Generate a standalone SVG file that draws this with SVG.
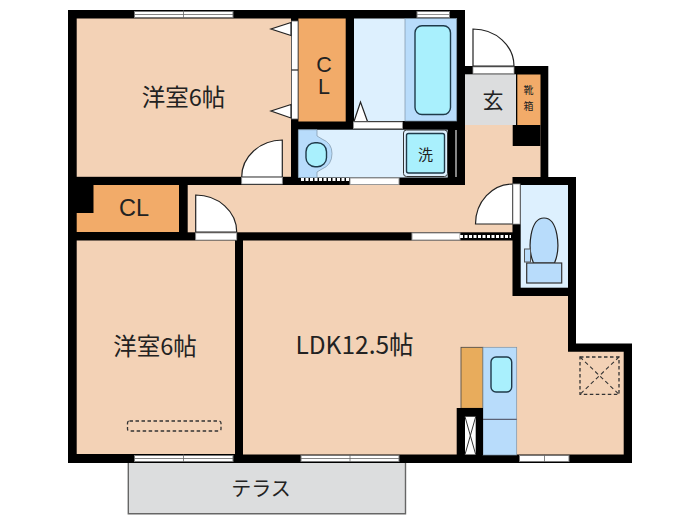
<svg xmlns="http://www.w3.org/2000/svg" width="700" height="525" viewBox="0 0 700 525">
<style>
.room{fill:#f3d2b6}.cl{fill:#f2ab69}.lb{fill:#ddf0fe}.bl{fill:#b8dcfb;stroke:#7d93a6;stroke-width:.7}.cy{fill:#a9f0fd;stroke:#1f3a4a;stroke-width:1.4}
.w{fill:#000}.wh{fill:#fff}.gr{fill:#dcddde}
.ln{fill:none;stroke:#222;stroke-width:1.2}
.door{fill:#fff;stroke:#222;stroke-width:1.2}
.sill{fill:#fff;stroke:#999;stroke-width:.8}
.win{fill:#fff;stroke:#777;stroke-width:1}
.t{font-family:"Noto Sans CJK JP","Noto Sans",sans-serif;fill:#222}
.a{font-family:"Liberation Sans",sans-serif;fill:#222}
.dash{fill:none;stroke:#333;stroke-width:1.3;stroke-dasharray:3.5 2.5}
</style>
<rect width="700" height="525" fill="#fff"/>
<g id="terrace"><path d="M128.300 462V513.700H405.500V462Z" class="gr" stroke="#666" stroke-width="1.400"/><text x="261" y="496" text-anchor="middle" class="t" font-size="20">テラス</text></g>
<g id="walls">
<path class="w" d="M68 10H465V66H548.300V177H576V343.500H632V463H68Z"/>
</g>
<g id="rooms">
<rect class="room" x="76.700" y="18.500" width="214.300" height="158.300"/>
<rect class="room" x="187.700" y="185" width="325" height="47.300"/>
<rect class="room" x="448" y="125" width="92.500" height="52"/>
<path class="w" d="M448 125H465V185H448Z"/>
<path class="w" d="M512.700 125H540.500V146H512.700Z"/>
<rect class="room" x="465" y="177" width="47.700" height="10"/>
<rect class="room" x="76.700" y="240.500" width="158.300" height="213.500"/>
<path class="room" d="M243 240.500H512.700V296H568V351.700H623.700V454.500H243Z"/>
<path class="w" d="M512.700 177H576V296H512.700Z"/>
<rect class="lb" x="520.700" y="185" width="47.300" height="102.700"/>
</g>
<g id="closet-upper"><rect class="cl" x="298.400" y="18.500" width="47.300" height="103"/><text x="324" y="72" text-anchor="middle" class="a" font-size="21.500">C</text><text x="324" y="94" text-anchor="middle" class="a" font-size="21.500">L</text></g>
<g id="closet-lower"><path class="cl" d="M93.500 185H179V232H76.700V213H93.500Z"/><text x="134" y="216" text-anchor="middle" class="a" font-size="23.500">CL</text></g>
<g id="bedroom1"><text x="183.500" y="106" text-anchor="middle" class="t" font-size="23.500">洋室6帖</text>
<rect class="wh" x="291.500" y="21" width="6.500" height="98" stroke="#555" stroke-width=".8"/><path class="ln" d="M291.500 70H298"/>
<path class="door" d="M291 22.500L271 29L291 35.500Z"/><path class="door" d="M291 104.500L271 111L291 118Z"/>
<path class="door" d="M282.300 177V140A41 37 0 0 0 241.700 177Z"/><rect class="sill" x="241.700" y="177.500" width="40.600" height="6.500"/>
<rect class="win" x="134.500" y="11.500" width="98.500" height="6"/><path d="M183.500 10.500V18M134.500 14.500H233" stroke="#666" fill="none" stroke-width=".8"/></g>
<g id="bath"><rect class="lb" x="354" y="18.500" width="51" height="102.500"/><rect class="bl" x="405" y="18.500" width="51.700" height="102.500"/><rect class="cy" x="415" y="25.700" width="35.500" height="88.800" rx="7"/>
<path class="door" d="M360.500 102L354 121.500H367.500Z"/><rect class="sill" x="353.500" y="122" width="49" height="6.500"/><rect class="win" x="417" y="11.500" width="32.500" height="6"/><path d="M417 14.500H449.500" stroke="#777" stroke-width=".8"/></g>
<g id="washroom"><rect class="lb" x="298.400" y="129.700" width="149.300" height="47.800"/>
<path class="bl" d="M298.400 129.700H317V136L322 139Q332 143 332 153.500Q332 165 322 169L317 172V177.500H298.400Z"/>
<rect class="cy" x="306" y="142.700" width="20.500" height="24" rx="9"/>
<rect x="403.500" y="130" width="44" height="46.500" rx="3" fill="#ddf0fe" stroke="#333" stroke-width="1"/><rect class="cy" x="406.500" y="133.500" width="38" height="39.500" rx="2"/>
<text x="425.500" y="159.500" text-anchor="middle" class="t" font-size="15">洗</text>
<path d="M456 130V177" stroke="#ccc" stroke-width="1.300"/>
<path d="M301 179.500H350" stroke="#fff" stroke-width="3" stroke-dasharray="3 1.500"/><rect x="350" y="178" width="49" height="6.500" fill="#fff" stroke="#999" stroke-width="1"/></g>
<g id="entrance"><rect class="gr" x="465" y="74.300" width="51" height="50.700"/><rect class="cl" x="517.300" y="74.500" width="23.200" height="50.500"/>
<text x="493" y="108" text-anchor="middle" class="t" font-size="21">玄</text><text x="528.500" y="93.500" text-anchor="middle" class="t" font-size="10">靴</text><text x="528.500" y="110" text-anchor="middle" class="t" font-size="10">箱</text>
<path class="door" d="M473 66V29A41 37 0 0 1 514 66Z"/><rect class="sill" x="473" y="67" width="41" height="6.500"/></g>
<g id="toilet"><path class="door" d="M512.700 184V224H475.500A37 40 0 0 1 512.700 184Z"/><rect class="sill" x="513" y="184" width="7" height="40"/>
<path d="M533.500 263C527 248 530 218 544 218C558 218 561 248 554.500 263Z" fill="#b8dcfb" stroke="#222" stroke-width="1.200"/><rect x="526.700" y="263" width="35" height="20" fill="#b8dcfb" stroke="#333" stroke-width="1.200"/><rect x="524.500" y="249" width="6" height="13" fill="#b8dcfb" stroke="#555" stroke-width="1"/></g>
<g id="bedroom2"><text x="155" y="355" text-anchor="middle" class="t" font-size="23.500">洋室6帖</text><rect class="dash" x="127.500" y="421" width="93.500" height="10" rx="2"/>
<rect class="win" x="134.500" y="455.500" width="98.500" height="6"/><path d="M183.500 454.500V462M134 458.500H233" stroke="#666" fill="none" stroke-width=".8"/>
<path class="door" d="M236.700 232H195.700V195A41 37 0 0 1 236.700 232Z"/><rect class="sill" x="195.700" y="233" width="41" height="7"/></g>
<g id="ldk"><text x="354.500" y="354" text-anchor="middle" class="t" font-size="24.500">LDK12.5帖</text>
<rect x="412" y="233" width="48" height="7" fill="#fff" stroke="#999" stroke-width="1"/><path d="M460 236.500H511" stroke="#fff" stroke-width="3" stroke-dasharray="3 1.500"/>
<rect class="win" x="301" y="455.500" width="98" height="6"/><path d="M350 454.500V462M301 458.500H399" stroke="#666" fill="none" stroke-width=".8"/>
<rect class="win" x="519.500" y="455.500" width="49.500" height="6"/><path d="M544.500 454.500V462" stroke="#666" fill="none" stroke-width=".8"/>
<rect class="dash" x="580" y="357" width="39" height="37.300"/><path d="M580 357L619 394.300M619 357L580 394.300" fill="none" stroke="#333" stroke-width="1.100" stroke-dasharray="4 3"/></g>
<g id="kitchen"><rect x="461" y="347.300" width="22" height="61" fill="#e8ac5c" stroke="#444" stroke-width=".8"/><rect class="bl" x="483" y="347.300" width="33.700" height="107.700"/><path d="M483 419.300H516.700" stroke="#445" stroke-width="1"/><rect class="cy" x="491" y="357" width="20.700" height="35" rx="5"/>
<rect class="w" x="456.700" y="408" width="26.300" height="47"/><rect class="wh" x="465" y="416.700" width="10.700" height="37.800"/><path d="M465 416.700L475.700 454.500M475.700 416.700L465 454.500" stroke="#333" stroke-width="1" fill="none"/></g>
</svg>
